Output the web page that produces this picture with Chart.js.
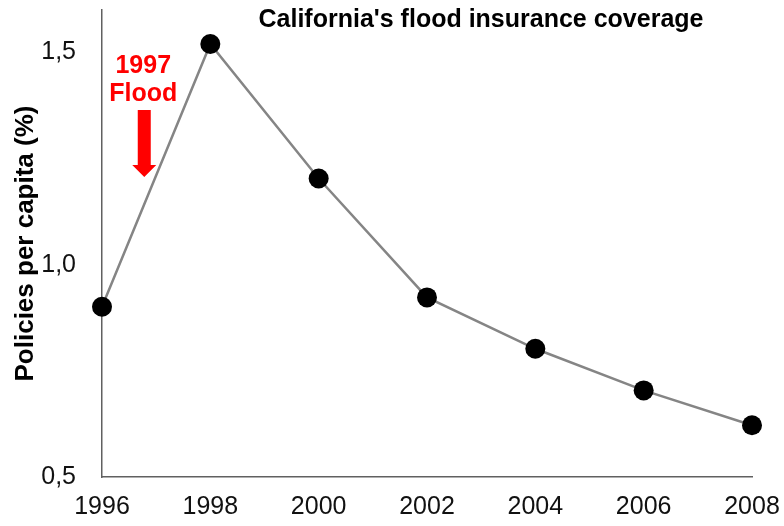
<!DOCTYPE html>
<html>
<head>
<meta charset="utf-8">
<script src="https://cdn.jsdelivr.net/npm/chart.js@4/dist/chart.umd.min.js"></script>
<style>
html,body{margin:0;padding:0;background:#fff;}
#wrap{width:784px;height:526px;}
</style>
</head>
<body>
<div id="wrap"><canvas id="c" width="784" height="526"></canvas></div>
<script>
const years = [1996, 1998, 2000, 2002, 2004, 2006, 2008];
const policiesPerCapita = [0.901, 1.520, 1.203, 0.923, 0.802, 0.704, 0.622];
const yTickValues = [0.5, 1.0, 1.5];
const chartTitle = "California's flood insurance coverage";
const yAxisTitle = "Policies per capita (%)";
const annotationLines = ["1997", "Flood"];
const annotationYear = 1996.78;

const FONT = '"Liberation Sans", Arial, sans-serif';

const overlay = {
  id: 'overlay',
  afterDraw(chart) {
    const ctx = chart.ctx;
    const xs = chart.scales.x;
    ctx.save();
    // title
    ctx.fillStyle = '#000';
    ctx.font = 'bold 25px ' + FONT;
    ctx.textAlign = 'center';
    ctx.textBaseline = 'middle';
    ctx.fillText(chartTitle, 481, 20);
    // annotation
    const ax = xs.getPixelForValue(annotationYear);
    ctx.fillStyle = '#ff0000';
    ctx.font = 'bold 25px ' + FONT;
    ctx.fillText(annotationLines[0], ax - 1, 66);
    ctx.fillText(annotationLines[1], ax - 1, 94);
    // arrow
    const top = 110, headStart = 165, tip = 177, sw = 6.5, hw = 12;
    ctx.beginPath();
    ctx.moveTo(ax - sw, top);
    ctx.lineTo(ax + sw, top);
    ctx.lineTo(ax + sw, headStart);
    ctx.lineTo(ax + hw, headStart);
    ctx.lineTo(ax, tip);
    ctx.lineTo(ax - hw, headStart);
    ctx.lineTo(ax - sw, headStart);
    ctx.closePath();
    ctx.fill();
    ctx.restore();
  }
};

new Chart(document.getElementById('c'), {
  type: 'line',
  data: {
    datasets: [{
      data: years.map((y, i) => ({x: y, y: policiesPerCapita[i]})),
      borderColor: '#858585',
      borderWidth: 2.5,
      pointRadius: 10,
      pointHoverRadius: 10,
      pointBackgroundColor: '#000',
      pointBorderColor: '#000',
      pointBorderWidth: 0,
      tension: 0,
      clip: false
    }]
  },
  options: {
    responsive: false,
    animation: false,
    devicePixelRatio: 1,
    layout: { padding: { top: 8, right: 32, left: 0, bottom: 0 } },
    plugins: { legend: { display: false }, tooltip: { enabled: false }, title: { display: false } },
    scales: {
      x: {
        type: 'linear',
        min: 1996, max: 2008,
        grid: { display: false, drawTicks: false },
        border: { color: '#606060', width: 1.5 },
        afterFit: s => { s.height = 49; s.paddingLeft = 0; s.paddingRight = 0; },
        ticks: {
          stepSize: 2,
          color: '#111',
          padding: 15,
          maxRotation: 0,
          autoSkip: false,
          font: { family: FONT, size: 25 },
          callback: v => String(v)
        }
      },
      y: {
        type: 'linear',
        min: 0.5, max: 1.6,
        grid: { display: false, drawTicks: false },
        border: { color: '#606060', width: 1.5 },
        afterBuildTicks: s => { s.ticks = yTickValues.map(v => ({value: v})); },
        afterFit: s => { s.width = 102; s.paddingTop = 0; s.paddingBottom = 0; },
        ticks: {
          color: '#111',
          padding: 26,
          font: { family: FONT, size: 25 },
          callback: v => Number(v).toFixed(1).replace('.', ',')
        },
        title: {
          display: true,
          text: yAxisTitle,
          color: '#000',
          padding: { top: 10, bottom: 0 },
          font: { family: FONT, size: 26, weight: 'bold' }
        }
      }
    }
  },
  plugins: [overlay]
});
</script>
</body>
</html>
